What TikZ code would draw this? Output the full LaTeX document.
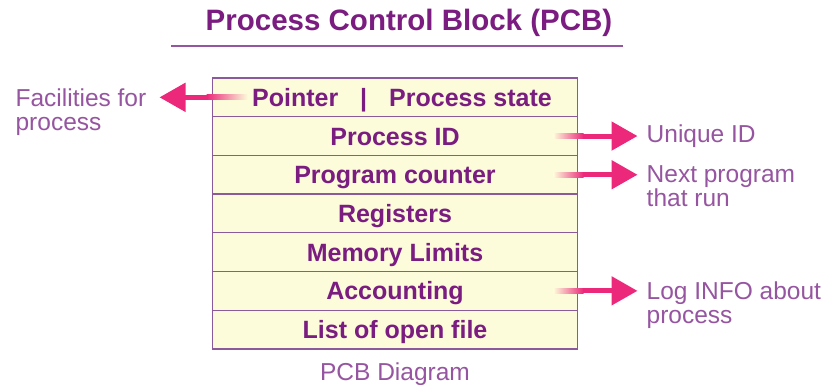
\documentclass[tikz,border=0pt]{standalone}
\usepackage{fontspec}
\setmainfont{Liberation Sans}
\usetikzlibrary{arrows.meta,positioning}
\definecolor{pcbtext}{RGB}{122,28,128}
\definecolor{pcbnote}{RGB}{150,85,160}
\definecolor{pcbline}{RGB}{140,90,155}
\definecolor{pcbfill}{RGB}{252,251,218}
\definecolor{pcbpink}{RGB}{236,40,122}

\begin{document}
\begin{tikzpicture}[x=1pt,y=-1pt,
    row/.style={draw=pcbline, line width=1.3pt, fill=pcbfill, minimum width=365pt,
      minimum height=38.7pt, inner sep=0pt, outer sep=0pt, text=pcbtext,
      text height=20pt, text depth=2pt, font=\fontsize{25}{28}\selectfont\bfseries},
    note/.style={text=pcbnote, align=left, inner sep=0pt, font=\fontsize{24.5}{24}\selectfont},
    pcbarrow/.style={draw=pcbpink, line width=5pt, -{Triangle[length=26pt,width=28pt]}}]
    \useasboundingbox (0,0) rectangle (830,385);
    \node[text=pcbtext, font=\fontsize{29.5}{32}\selectfont\bfseries] (title) at (409,23) {Process Control Block (PCB)};
    \draw[pcbnote, line width=1.6pt] (171,46) -- (623,46);
    \node[row] (r1) at (395,97.35) {\hspace*{14pt}Pointer\hspace{22pt}|\hspace{22pt}Process state};
    \node[row, below=0pt of r1] (r2) {Process ID};
    \node[row, below=0pt of r2] (r3) {Program counter};
    \node[row, below=0pt of r3] (r4) {Registers};
    \node[row, below=0pt of r4] (r5) {Memory Limits};
    \node[row, below=0pt of r5] (r6) {Accounting};
    \node[row, below=0pt of r6] (r7) {List of open file};
    \node[note, below=14pt of r7] (cap) {PCB Diagram};
    \node[note, left=66pt of r1, anchor=north east, yshift=9pt] (fac) {Facilities for\\process};
    \node[note, right=69pt of r2] (uid) {Unique ID};
    \node[note, right=69pt of r3, anchor=north west, yshift=9pt] (nxt) {Next program\\that run};
    \node[note, right=69pt of r6, anchor=north west, yshift=9pt] (log) {Log INFO about\\process};
    \shade[left color=pcbpink, right color=pcbfill] ([xshift=-6pt,yshift=-2.5pt]r1.west) rectangle ([xshift=35pt,yshift=2.5pt]r1.west);
    \draw[pcbarrow, shorten >=13pt] ([xshift=-5pt]r1.west) -- (r1.west -| fac.east);
    \shade[left color=pcbfill, right color=pcbpink] ([xshift=-24pt,yshift=-2.5pt]r2.east) rectangle ([xshift=6pt,yshift=2.5pt]r2.east);
    \draw[pcbarrow, shorten >=9pt] ([xshift=5pt]r2.east) -- (r2.east -| uid.west);
    \shade[left color=pcbfill, right color=pcbpink] ([xshift=-24pt,yshift=-2.5pt]r3.east) rectangle ([xshift=6pt,yshift=2.5pt]r3.east);
    \draw[pcbarrow, shorten >=9pt] ([xshift=5pt]r3.east) -- (r3.east -| nxt.west);
    \shade[left color=pcbfill, right color=pcbpink] ([xshift=-24pt,yshift=-2.5pt]r6.east) rectangle ([xshift=6pt,yshift=2.5pt]r6.east);
    \draw[pcbarrow, shorten >=9pt] ([xshift=5pt]r6.east) -- (r6.east -| log.west);
\end{tikzpicture}
\end{document}
